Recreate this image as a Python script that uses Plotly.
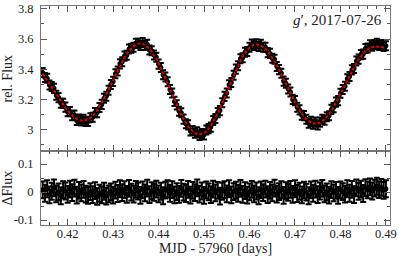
import plotly.graph_objects as go

# ---- data ----
mjd = [0.4145, 0.4150, 0.4155, 0.4160, 0.4165, 0.4170, 0.4175, 0.4180, 0.4185, 0.4190,
       0.4195, 0.4200, 0.4205, 0.4210, 0.4215, 0.4220, 0.4225, 0.4230, 0.4235, 0.4240,
       0.4245, 0.4250, 0.4255, 0.4260, 0.4265, 0.4270, 0.4275, 0.4280, 0.4285, 0.4290,
       0.4295, 0.4300, 0.4305, 0.4310, 0.4315, 0.4320, 0.4325, 0.4330, 0.4335, 0.4340,
       0.4345, 0.4350, 0.4355, 0.4360, 0.4365, 0.4370, 0.4375, 0.4380, 0.4385, 0.4390,
       0.4395, 0.4400, 0.4405, 0.4410, 0.4415, 0.4420, 0.4425, 0.4430, 0.4435, 0.4440,
       0.4445, 0.4450, 0.4455, 0.4460, 0.4465, 0.4470, 0.4475, 0.4480, 0.4485, 0.4490,
       0.4495, 0.4500, 0.4505, 0.4510, 0.4515, 0.4520, 0.4525, 0.4530, 0.4535, 0.4540,
       0.4545, 0.4550, 0.4555, 0.4560, 0.4565, 0.4570, 0.4575, 0.4580, 0.4585, 0.4590,
       0.4595, 0.4600, 0.4605, 0.4610, 0.4615, 0.4620, 0.4625, 0.4630, 0.4635, 0.4640,
       0.4645, 0.4650, 0.4655, 0.4660, 0.4665, 0.4670, 0.4675, 0.4680, 0.4685, 0.4690,
       0.4695, 0.4700, 0.4705, 0.4710, 0.4715, 0.4720, 0.4725, 0.4730, 0.4735, 0.4740,
       0.4745, 0.4750, 0.4755, 0.4760, 0.4765, 0.4770, 0.4775, 0.4780, 0.4785, 0.4790,
       0.4795, 0.4800, 0.4805, 0.4810, 0.4815, 0.4820, 0.4825, 0.4830, 0.4835, 0.4840,
       0.4845, 0.4850, 0.4855, 0.4860, 0.4865, 0.4870, 0.4875, 0.4880, 0.4885, 0.4890,
       0.4895, 0.4900]

model_flux = [3.370, 3.350, 3.329, 3.306, 3.283, 3.259, 3.235, 3.212, 3.189, 3.167,
              3.146, 3.127, 3.110, 3.096, 3.083, 3.073, 3.066, 3.062, 3.060, 3.062,
              3.068, 3.078, 3.092, 3.109, 3.129, 3.152, 3.178, 3.206, 3.236, 3.267,
              3.299, 3.331, 3.363, 3.394, 3.424, 3.452, 3.478, 3.501, 3.521, 3.539,
              3.552, 3.562, 3.568, 3.570, 3.568, 3.561, 3.551, 3.536, 3.517, 3.495,
              3.469, 3.440, 3.409, 3.377, 3.342, 3.306, 3.270, 3.234, 3.198, 3.163,
              3.131, 3.100, 3.071, 3.045, 3.023, 3.004, 2.990, 2.979, 2.972, 2.970,
              2.972, 2.979, 2.991, 3.007, 3.027, 3.051, 3.078, 3.108, 3.141, 3.176,
              3.212, 3.249, 3.286, 3.323, 3.359, 3.394, 3.427, 3.457, 3.484, 3.508,
              3.528, 3.544, 3.556, 3.563, 3.565, 3.563, 3.557, 3.548, 3.535, 3.519,
              3.499, 3.476, 3.452, 3.425, 3.396, 3.365, 3.334, 3.303, 3.271, 3.240,
              3.209, 3.181, 3.154, 3.129, 3.106, 3.087, 3.070, 3.057, 3.048, 3.042,
              3.040, 3.042, 3.047, 3.057, 3.069, 3.085, 3.104, 3.126, 3.150, 3.177,
              3.205, 3.234, 3.264, 3.295, 3.326, 3.356, 3.386, 3.414, 3.440, 3.464,
              3.486, 3.505, 3.521, 3.533, 3.543, 3.548, 3.550, 3.550, 3.549, 3.547,
              3.545, 3.543]

residual = [0.008, -0.004, 0.012, -0.010, 0.003, 0.015, -0.006, 0.001, -0.013, 0.009,
            0.004, -0.008, 0.011, -0.002, 0.014, -0.011, 0.006, -0.003, 0.010, -0.007,
            -0.012, 0.002, -0.009, 0.005, -0.015, -0.004, -0.010, 0.003, -0.014, -0.006,
            0.001, -0.011, 0.007, -0.005, 0.012, -0.002, 0.009, -0.008, 0.013, 0.000,
            -0.007, 0.010, 0.004, -0.012, 0.008, -0.003, 0.014, -0.009, 0.005, -0.001,
            0.011, -0.006, 0.003, -0.013, 0.007, 0.012, -0.004, 0.009, -0.010, 0.002,
            -0.008, 0.013, 0.000, -0.005, 0.010, -0.011, 0.006, -0.002, 0.015, -0.007,
            0.004, -0.012, 0.008, 0.001, -0.009, 0.011, -0.003, 0.006, -0.014, 0.003,
            0.009, -0.006, 0.012, -0.010, 0.002, 0.007, -0.004, 0.013, -0.008, 0.005,
            -0.011, 0.001, 0.010, -0.006, 0.004, -0.013, 0.008, -0.002, 0.011, -0.009,
            0.006, -0.003, 0.014, -0.007, 0.002, 0.009, -0.012, 0.005, -0.001, 0.010,
            -0.008, 0.012, -0.005, 0.003, -0.010, 0.007, 0.000, -0.013, 0.008, -0.004,
            0.011, -0.009, 0.004, 0.013, -0.006, 0.001, -0.011, 0.009, -0.003, 0.006,
            -0.012, 0.008, 0.002, -0.007, 0.012, -0.004, 0.010, -0.009, 0.015, 0.003,
            0.011, -0.005, 0.016, 0.008, 0.019, 0.004, 0.014, 0.021, 0.009, 0.017,
            0.006, 0.012]

flux_err = 0.03

flux_ticks = [3.0, 3.2, 3.4, 3.6, 3.8]
flux_ticktext = ["3", "3.2", "3.4", "3.6", "3.8"]
resid_ticks = [-0.1, 0.0, 0.1]
resid_ticktext = ["-0.1", "0", "0.1"]
mjd_ticks = [0.42, 0.43, 0.44, 0.45, 0.46, 0.47, 0.48, 0.49]
mjd_ticktext = ["0.42", "0.43", "0.44", "0.45", "0.46", "0.47", "0.48", "0.49"]

observed = [m + r for m, r in zip(model_flux, residual)]

FONT = "Liberation Serif, DejaVu Serif, serif"
AXC = "#777777"
TKC = "#555555"
TXT = "#222222"
TICK_FS = 12.5
TITLE_FS = 14

fig = go.Figure()

err_style = dict(type="constant", value=flux_err, color="black", thickness=2, width=3)

fig.add_trace(go.Scatter(
    x=mjd, y=observed, mode="markers", xaxis="x", yaxis="y",
    marker=dict(color="black", size=5),
    error_y=err_style, showlegend=False, hoverinfo="skip"))

fig.add_trace(go.Scatter(
    x=mjd, y=model_flux, mode="lines", xaxis="x", yaxis="y",
    line=dict(color="#e00000", width=2, dash="3px,2px"), showlegend=False))

fig.add_trace(go.Scatter(
    x=mjd, y=residual, mode="markers", xaxis="x2", yaxis="y2",
    marker=dict(color="black", size=5),
    error_y=err_style, showlegend=False, hoverinfo="skip"))

split = 75 / 223

common_x = dict(
    range=[0.41414, 0.4909], tickvals=mjd_ticks, ticktext=mjd_ticktext,
    ticks="inside", ticklen=6, tickwidth=1, tickcolor=TKC,
    showline=True, linecolor=AXC, linewidth=1, mirror="allticks",
    showgrid=False, zeroline=False,
    minor=dict(dtick=0.002, tick0=0.41, ticks="inside", ticklen=3, tickcolor=TKC, showgrid=False),
    tickfont=dict(family=FONT, size=TICK_FS, color=TXT),
)

fig.update_layout(
    width=399, height=256,
    margin=dict(l=37, r=8, t=2, b=31),
    paper_bgcolor="white", plot_bgcolor="white",
    font=dict(family=FONT, size=12, color=TXT),
    xaxis=dict(common_x, anchor="y", showticklabels=False, matches="x2"),
    xaxis2=dict(common_x, anchor="y2", ticklabelstandoff=-3, ticklabeloverflow="allow",
                title=dict(text="MJD - 57960 [days]", font=dict(family=FONT, size=TITLE_FS, color=TXT), standoff=0)),
    yaxis=dict(
        domain=[split, 1], range=[2.858, 3.818],
        tickvals=flux_ticks, ticktext=flux_ticktext, ticklabeloverflow="allow",
        ticks="inside", ticklen=6, tickcolor=TKC,
        showline=True, linecolor=AXC, mirror="allticks",
        showgrid=False, zeroline=False,
        minor=dict(dtick=0.1, tick0=3.0, ticks="inside", ticklen=3, tickcolor=TKC, showgrid=False),
        tickfont=dict(family=FONT, size=TICK_FS, color=TXT), ticklabelstandoff=4,
        title=dict(text="rel. Flux", font=dict(family=FONT, size=TITLE_FS, color=TXT), standoff=2),
    ),
    yaxis2=dict(
        domain=[0, split], range=[-0.1175, 0.1456],
        tickvals=resid_ticks, ticktext=resid_ticktext,
        ticks="inside", ticklen=6, tickcolor=TKC,
        showline=True, linecolor=AXC, mirror="allticks",
        showgrid=False, zeroline=False,
        minor=dict(dtick=0.05, tick0=0.0, ticks="inside", ticklen=3, tickcolor=TKC, showgrid=False),
        tickfont=dict(family=FONT, size=TICK_FS, color=TXT), ticklabelstandoff=4,
        title=dict(text="ΔFlux", font=dict(family=FONT, size=TITLE_FS, color=TXT), standoff=2),
    ),
    annotations=[dict(
        text="<i>g</i>′, 2017-07-26", xref="paper", yref="paper",
        x=0.983, y=0.935, xanchor="right", yanchor="middle", showarrow=False,
        font=dict(family=FONT, size=15, color=TXT))],
)

fig.write_html("out.html", config={"displayModeBar": False},
               post_script="document.body.style.margin='0';document.body.style.overflow='hidden';")
